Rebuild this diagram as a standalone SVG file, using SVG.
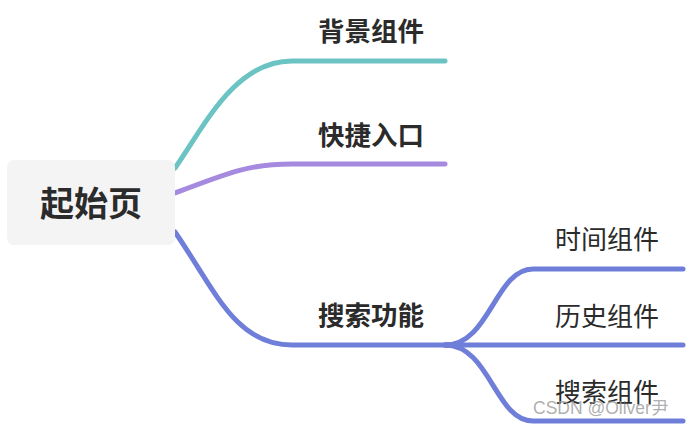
<svg xmlns="http://www.w3.org/2000/svg" width="688" height="426" viewBox="0 0 688 426">
<style>
.l{fill:none;stroke-width:5;stroke-linecap:round}
.t{font-family:"Noto Sans CJK SC","Noto Sans",sans-serif;fill:#2b2b2b}
.b{font-weight:bold;font-size:26.5px}
.n{font-size:26px}
</style>
<rect width="688" height="426" fill="#fff"/>
<g id="connectors">
<path class="l" stroke="#6cc3c3" d="M175,168 C205,125 235,61 292,61 H445"/>
<path class="l" stroke="#a68ae0" d="M175,193 C230,172 250,164 292,164 H445"/>
<path class="l" stroke="#6f7fd9" d="M175,232 C215,290 235,345 292,345 H463"/>
<path class="l" stroke="#6f7fd9" d="M445,345 C490,345 495,269 533,269 H683"/>
<path class="l" stroke="#6f7fd9" d="M445,345 H683"/>
<path class="l" stroke="#6f7fd9" d="M445,345 C490,345 495,421 533,421 H683"/>
</g>
<g id="root">
<rect x="7" y="160" width="168" height="85" rx="7" fill="#f4f4f4"/>
<text class="t" x="91" y="216" text-anchor="middle" font-size="34" font-weight="bold">起始页</text>
</g>
<g id="n1"><text class="t b" x="318" y="41">背景组件</text></g>
<g id="n2"><text class="t b" x="318" y="145">快捷入口</text></g>
<g id="n3"><text class="t b" x="318" y="325">搜索功能</text></g>
<g id="n4"><text class="t n" x="555" y="249">时间组件</text></g>
<g id="n5"><text class="t n" x="555" y="326">历史组件</text></g>
<g id="n6"><text class="t n" x="555" y="402">搜索组件</text></g>
<text x="533" y="414" font-family="'Liberation Sans','Noto Sans CJK SC',sans-serif" font-size="17.5" fill="#9a9a9a" fill-opacity="0.8">CSDN @Oliver尹</text>
</svg>
